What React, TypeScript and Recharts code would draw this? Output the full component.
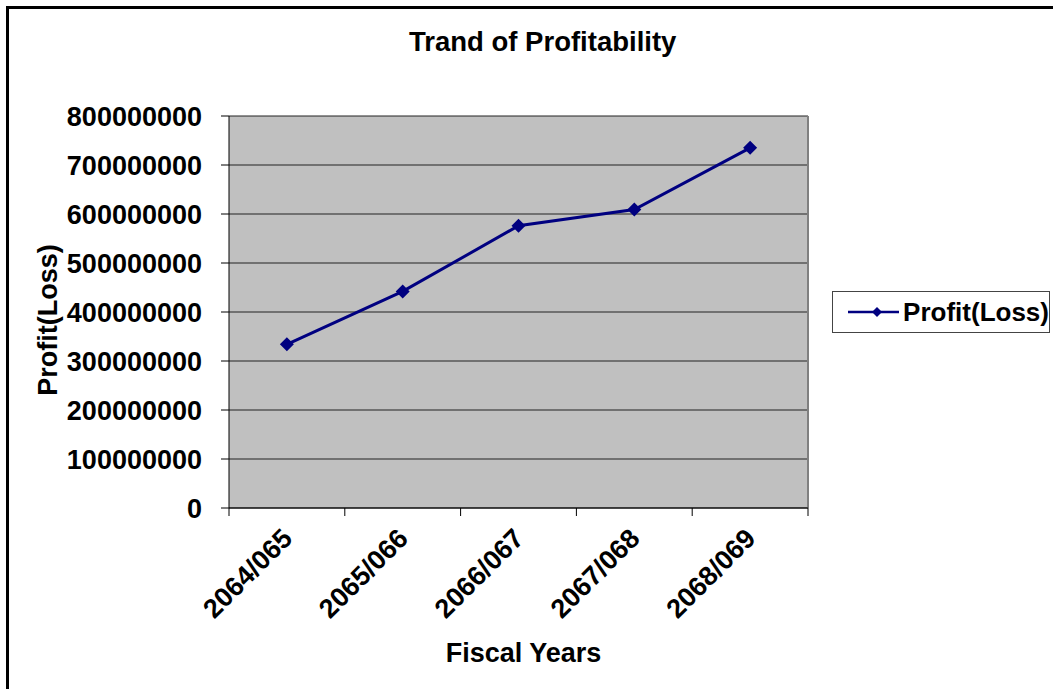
import React from 'react';
import { LineChart, Line, XAxis, YAxis, CartesianGrid, Legend } from 'recharts';

const fiscalYears = ['2064/065', '2065/066', '2066/067', '2067/068', '2068/069'];
const profitLoss = [334000000, 442000000, 576000000, 609000000, 735000000];
const profitTicks = [0, 100000000, 200000000, 300000000, 400000000, 500000000, 600000000, 700000000, 800000000];

const FONT = '"Liberation Sans", Arial, sans-serif';
const NAVY = '#000080';

const data = fiscalYears.map((year, i) => ({ year, profit: profitLoss[i] }));

const Diamond = (props: any) => {
  const { cx, cy } = props;
  if (cx == null || cy == null) return null;
  const r = 7;
  return <polygon points={`${cx},${cy - r} ${cx + r},${cy} ${cx},${cy + r} ${cx - r},${cy}`} fill={NAVY} />;
};

// category labels sit in the middle of each band, tick marks on the band edges
const YearTick = (props: any) => {
  const { x, y, payload, index, visibleTicksCount } = props;
  const half = payload?.offset ?? 0;
  const ax = x + 7;
  const ay = y + 32;
  return (
    <g>
      <line x1={x - half} y1={y} x2={x - half} y2={y + 8} stroke="#000" />
      {index === visibleTicksCount - 1 && <line x1={x + half} y1={y} x2={x + half} y2={y + 8} stroke="#000" />}
      <text
        x={ax}
        y={ay}
        transform={`rotate(-45, ${ax}, ${ay})`}
        textAnchor="end"
        fontFamily={FONT}
        fontWeight="bold"
        fontSize={27}
        fill="#000"
      >
        {payload.value}
      </text>
    </g>
  );
};

const LegendBox = (props: any) => {
  const entry = props.payload?.[0];
  return (
    <div
      style={{
        width: 216,
        height: 40,
        border: '1px solid #444',
        background: '#fff',
        display: 'flex',
        alignItems: 'center',
        fontFamily: FONT,
        fontWeight: 'bold',
        fontSize: 26,
        color: '#000',
      }}
    >
      <svg width={70} height={20}>
        <line x1={15} y1={10} x2={67} y2={10} stroke={NAVY} strokeWidth={2.5} />
        <polygon points="44,5 49,10 44,15 39,10" fill={NAVY} />
      </svg>
      <span style={{ marginLeft: 4, whiteSpace: 'nowrap' }}>{entry ? entry.value : 'Profit(Loss)'}</span>
    </div>
  );
};

const App: React.FC = () => {
  return (
    <div style={{ position: 'absolute', left: 0, top: 0, width: 1053, height: 689, overflow: 'hidden', background: '#fff' }}>
      <div
        style={{
          position: 'absolute',
          left: 6,
          top: 6,
          width: 1200,
          height: 800,
          borderLeft: '3px solid #000',
          borderTop: '3px solid #000',
        }}
      />
      <div
        style={{
          position: 'absolute',
          left: 409,
          top: 28,
          fontFamily: FONT,
          fontWeight: 'bold',
          fontSize: 27.5,
          lineHeight: '27px',
          whiteSpace: 'nowrap',
          color: '#000',
        }}
      >
        Trand of Profitability
      </div>
      <div style={{ position: 'absolute', left: 0, top: 0 }}>
        <LineChart width={1053} height={689} data={data} margin={{ top: 116, right: 245, bottom: 0, left: 0 }}>
          <CartesianGrid horizontal vertical={false} stroke="#222" fill="#C0C0C0" fillOpacity={1} />
          <CartesianGrid
            horizontal={false}
            vertical
            stroke="#808080"
            strokeWidth={2}
            verticalCoordinatesGenerator={({ offset }: any) => [offset.left + offset.width]}
          />
          <XAxis
            dataKey="year"
            scale="band"
            height={181}
            interval={0}
            tickSize={0}
            tickMargin={0}
            tickLine={false}
            axisLine={{ stroke: '#000' }}
            tick={<YearTick />}
            label={{
              content: (p: any) => {
                const vb = p.viewBox || { x: 229, width: 579, y: 508 };
                return (
                  <text x={vb.x + vb.width / 2 + 5} y={662} textAnchor="middle" fontFamily={FONT} fontWeight="bold" fontSize={27} fill="#000">
                    Fiscal Years
                  </text>
                );
              },
            }}
          />
          <YAxis
            width={229}
            domain={[0, 800000000]}
            ticks={profitTicks}
            interval={0}
            tickSize={8}
            tickMargin={19}
            axisLine={{ stroke: '#000' }}
            tickLine={{ stroke: '#000' }}
            tick={{ fontFamily: FONT, fontWeight: 'bold', fontSize: 27, fill: '#000' }}
            label={{
              content: (p: any) => {
                const vb = p.viewBox || { y: 116, height: 392 };
                const cy = vb.y + vb.height / 2 + 8;
                return (
                  <text
                    x={48}
                    y={cy}
                    transform={`rotate(-90, 48, ${cy})`}
                    textAnchor="middle"
                    dominantBaseline="central"
                    fontFamily={FONT}
                    fontWeight="bold"
                    fontSize={27}
                    fill="#000"
                  >
                    Profit(Loss)
                  </text>
                );
              },
            }}
          />
          <Legend
            layout="vertical"
            align="center"
            verticalAlign="middle"
            content={<LegendBox />}
            wrapperStyle={{ left: 832, top: 291, width: 218 }}
          />
          <Line
            type="linear"
            dataKey="profit"
            name="Profit(Loss)"
            stroke={NAVY}
            strokeWidth={3}
            dot={<Diamond />}
            activeDot={false}
            isAnimationActive={false}
          />
        </LineChart>
      </div>
    </div>
  );
};

export default App;
